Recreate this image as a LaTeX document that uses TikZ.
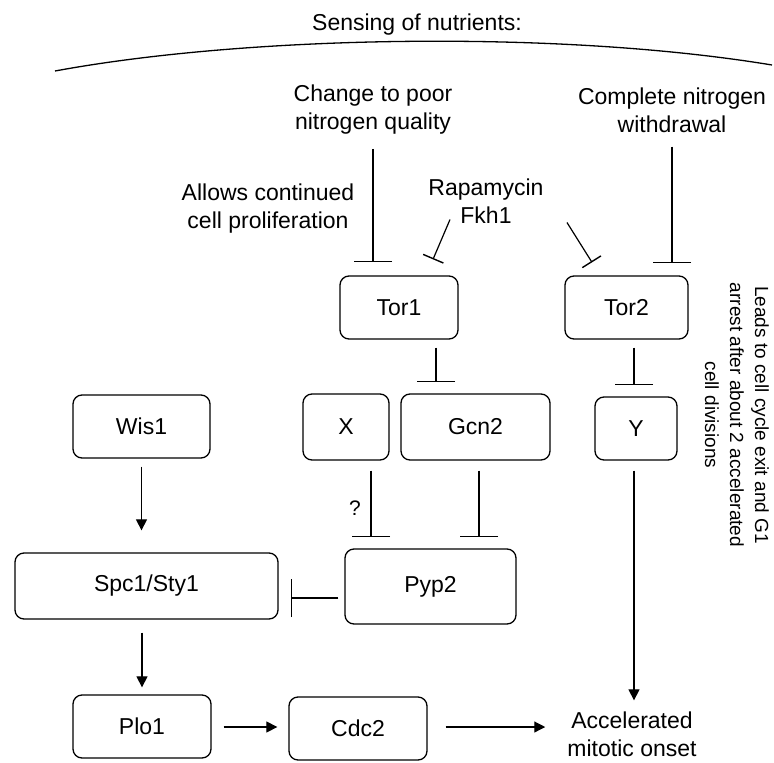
\documentclass[tikz,border=0pt]{standalone}
\usepackage{fontspec}
\setmainfont{Liberation Sans}
\newfontfamily\plainsans{Liberation Sans}
\usetikzlibrary{arrows.meta,calc}
\begin{document}
\begin{tikzpicture}[x=1pt,y=-1pt,
  txt/.style={font=\fontsize{23}{28}\selectfont},
  box/.style={txt, draw, line width=1.3pt, rounded corners=9pt, inner sep=0pt},
  lbl/.style={txt, align=center, inner sep=0pt},
  inh/.style={line width=1.2pt, -{Bar[width=38pt,line width=1.4pt]}},
  inhs/.style={line width=1.2pt, -{Bar[width=22pt,line width=1.4pt]}},
  act/.style={line width=1.2pt, -{Triangle[length=11pt,width=11pt]}},
]
\useasboundingbox (0,0) rectangle (774,763);

% title and arc
\node[lbl] (title) at (417,25) {Sensing of nutrients:};
\draw[line width=1.3pt] (55,71) .. controls (250,35) and (560,30) .. (772,65);

% free labels
\node[lbl] (change) at (373,110) {Change to poor\\nitrogen quality};
\node[lbl] (complete) at (672,110) {Complete nitrogen\\withdrawal};
\node[lbl] (allows) at (268,209) {Allows continued\\cell proliferation};
\node[lbl] (rapa) at (486,201) {Rapamycin\\Fkh1};
\node[lbl] (acc) at (632,734) {Accelerated\\mitotic onset};
\node[lbl, font=\fontsize{21}{26}\selectfont] (q) at (355,508) {?};
\node[inner sep=0pt, align=center, rotate=-90, font=\plainsans\fontsize{19}{25}\selectfont] (leads) at (737,415)
  {Leads to cell cycle exit and G1\\arrest after about 2 accelerated\\cell divisions};

% boxes
\node[box, minimum width=118pt, minimum height=63pt] (tor1) at (399,307.5) {Tor1};
\node[box, minimum width=123pt, minimum height=63pt] (tor2) at (626.5,307.5) {Tor2};
\node[box, minimum width=137pt, minimum height=63pt] (wis1) at (141.5,426.5) {Wis1};
\node[box, minimum width=86pt, minimum height=66pt] (X) at (346,427) {X};
\node[box, minimum width=149pt, minimum height=66pt] (gcn2) at (475.5,427) {Gcn2};
\node[box, minimum width=82pt, minimum height=63pt] (Y) at (636,428.5) {Y};
\node[box, minimum width=263pt, minimum height=66pt] (spc1) at (146.5,586) {Spc1/Sty1};
\node[box, minimum width=171pt, minimum height=75pt] (pyp2) at (430.5,586.5) {Pyp2};
\node[box, minimum width=138pt, minimum height=63pt] (plo1) at (142,726.5) {Plo1};
\node[box, minimum width=138pt, minimum height=63pt] (cdc2) at (358,728.5) {Cdc2};

% helper coordinates for line positions
\coordinate (xa) at (436,0);
\coordinate (xb) at (634,0);
\coordinate (xc) at (371,0);
\coordinate (xd) at (479,0);
\coordinate (ya) at (0,598);
\coordinate (yb) at (0,727);

% inhibitions from signals
\draw[inh, shorten <=14pt, shorten >=13pt] (change.south) -- (change.south |- tor1.north);
\draw[inh, shorten <=14pt, shorten >=12pt] (complete.south) -- (complete.south |- tor2.north);
\draw[inhs] ($(rapa.south)+(-36,-4)$) -- ($(tor1.north)+(34,-16)$);
\draw[inhs] ($(rapa.south)+(81,-1)$) -- ($(tor2.north)+(-34.5,-13)$);

% pathway
\draw[inh, shorten <=8pt, shorten >=11pt] (tor1.south -| xa) -- (gcn2.north -| xa);
\draw[inh, shorten <=8pt, shorten >=11pt] (tor2.south -| xb) -- (Y.north -| xb);
\draw[inh, shorten <=10pt, shorten >=11pt] (X.south -| xc) -- (pyp2.north -| xc);
\draw[inh, shorten <=10pt, shorten >=11pt] (gcn2.south -| xd) -- (pyp2.north -| xd);
\draw[inh, shorten <=6pt, shorten >=12pt] (pyp2.west |- ya) -- (spc1.east |- ya);
\draw[act, shorten <=8pt, shorten >=22pt] (wis1.south) -- (spc1.north -| wis1.south);
\draw[act, shorten <=13pt, shorten >=7pt] (spc1.south -| plo1.north) -- (plo1.north);
\draw[act, shorten <=12pt, shorten >=11pt] (plo1.east |- yb) -- (cdc2.west |- yb);
\draw[act, shorten <=18pt, shorten >=22pt] (cdc2.east |- yb) -- (acc.west |- yb);
\draw[act, shorten <=10pt, shorten >=11pt] (Y.south -| xb) -- (acc.north -| xb);
\end{tikzpicture}
\end{document}
